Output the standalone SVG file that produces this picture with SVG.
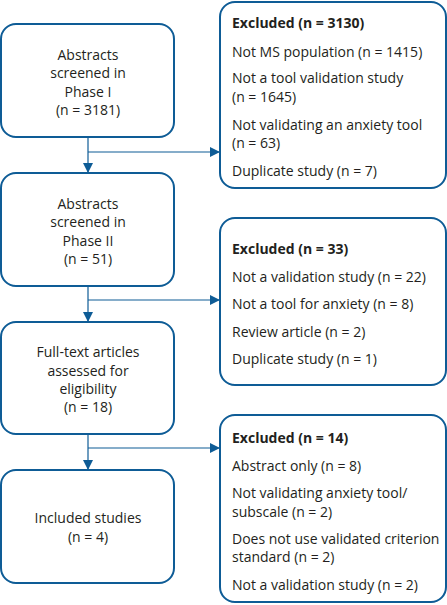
<svg xmlns="http://www.w3.org/2000/svg" width="447" height="605" viewBox="0 0 447 605">
<style>
.box{fill:#fff;stroke:#0e5c96;stroke-width:2}
.ln{stroke:#0e5c96;stroke-width:1.2;fill:none}
.t{font-family:"Open Sans","Noto Sans",sans-serif;font-size:14px;fill:#231f20}
.c{text-anchor:middle}
.b{font-weight:bold}
</style>
<defs>
<marker id="ah" viewBox="0 0 10 10" refX="10" refY="5" markerWidth="10" markerHeight="10" markerUnits="userSpaceOnUse" orient="auto">
<path d="M0,0 L10,5 L0,10 z" fill="#0e5c96"/>
</marker>
</defs>
<g id="connectors">
<line class="ln" x1="88" y1="137" x2="88" y2="173" marker-end="url(#ah)"/>
<line class="ln" x1="88" y1="152" x2="220" y2="152" marker-end="url(#ah)"/>
<line class="ln" x1="88" y1="286" x2="88" y2="322" marker-end="url(#ah)"/>
<line class="ln" x1="88" y1="300" x2="220" y2="300" marker-end="url(#ah)"/>
<line class="ln" x1="88" y1="434" x2="88" y2="470" marker-end="url(#ah)"/>
<line class="ln" x1="88" y1="448" x2="220" y2="448" marker-end="url(#ah)"/>
</g>
<g id="n1">
<rect class="box" x="1" y="24" width="173" height="113" rx="15"/>
<text class="t c" x="88" y="60">Abstracts</text>
<text class="t c" x="88" y="78">screened in</text>
<text class="t c" x="88" y="97">Phase I</text>
<text class="t c" x="88" y="115">(n = 3181)</text>
</g>
<g id="n2">
<rect class="box" x="1" y="173" width="173" height="113" rx="15"/>
<text class="t c" x="88" y="209">Abstracts</text>
<text class="t c" x="88" y="227">screened in</text>
<text class="t c" x="88" y="246">Phase II</text>
<text class="t c" x="88" y="264">(n = 51)</text>
</g>
<g id="n3">
<rect class="box" x="1" y="322" width="173" height="112" rx="15"/>
<text class="t c" x="88" y="357">Full-text articles</text>
<text class="t c" x="88" y="376">assessed for</text>
<text class="t c" x="88" y="394">eligibility</text>
<text class="t c" x="88" y="412">(n = 18)</text>
</g>
<g id="n4">
<rect class="box" x="1" y="470" width="173" height="113" rx="15"/>
<text class="t c" x="88" y="523">Included studies</text>
<text class="t c" x="88" y="542">(n = 4)</text>
</g>
<g id="e1">
<rect class="box" x="220" y="2" width="226" height="186" rx="15"/>
<text class="t b" x="232" y="28">Excluded (n = 3130)</text>
<text class="t" x="232" y="57">Not MS population (n = 1415)</text>
<text class="t" x="232" y="83">Not a tool validation study</text>
<text class="t" x="232" y="102">(n = 1645)</text>
<text class="t" x="232" y="130">Not validating an anxiety tool</text>
<text class="t" x="232" y="148">(n = 63)</text>
<text class="t" x="232" y="176">Duplicate study (n = 7)</text>
</g>
<g id="e2">
<rect class="box" x="220" y="218" width="226" height="167" rx="15"/>
<text class="t b" x="232" y="254">Excluded (n = 33)</text>
<text class="t" x="232" y="282">Not a validation study (n = 22)</text>
<text class="t" x="232" y="309">Not a tool for anxiety (n = 8)</text>
<text class="t" x="232" y="337">Review article (n = 2)</text>
<text class="t" x="232" y="364">Duplicate study (n = 1)</text>
</g>
<g id="e3">
<rect class="box" x="220" y="415" width="226" height="187" rx="15"/>
<text class="t b" x="232" y="443">Excluded (n = 14)</text>
<text class="t" x="232" y="471">Abstract only (n = 8)</text>
<text class="t" x="232" y="498">Not validating anxiety tool/</text>
<text class="t" x="232" y="517">subscale (n = 2)</text>
<text class="t" x="232" y="544">Does not use validated criterion</text>
<text class="t" x="232" y="562">standard (n = 2)</text>
<text class="t" x="232" y="590">Not a validation study (n = 2)</text>
</g>
</svg>
